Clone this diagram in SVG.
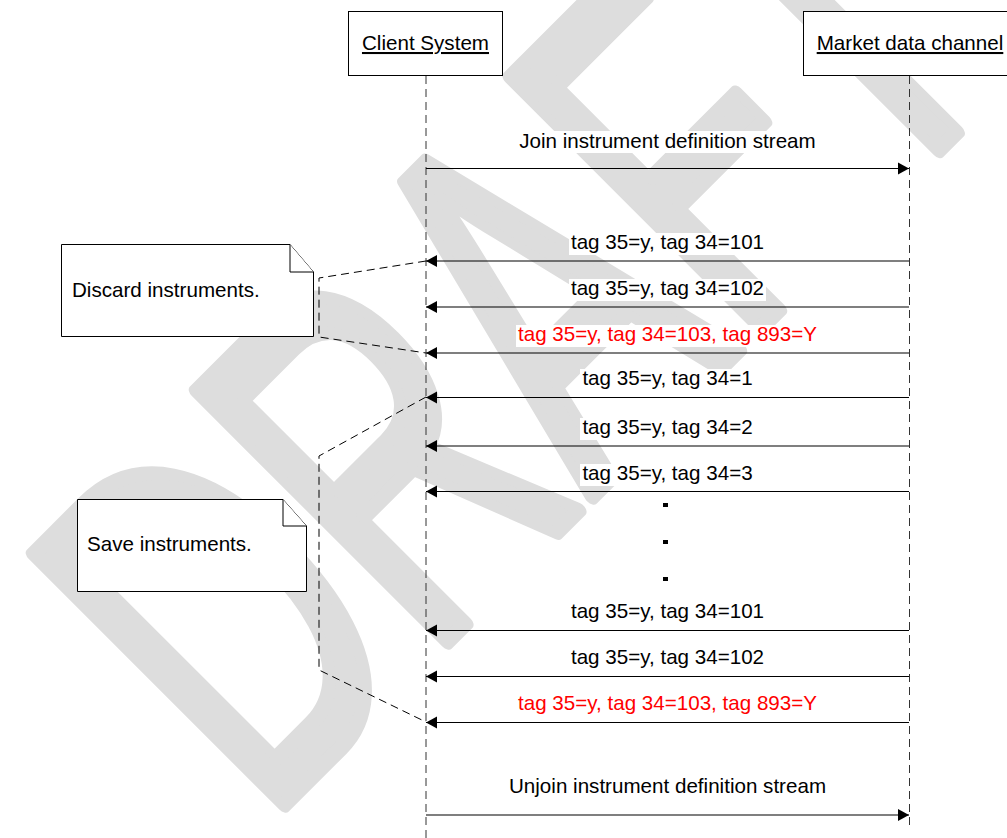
<svg xmlns="http://www.w3.org/2000/svg" width="1007" height="838" viewBox="0 0 1007 838">
  <style>
    .lbl { font-family: "Liberation Sans", Arial, sans-serif; font-size: 20.6px; fill: #000; }
    .mid { text-anchor: middle; }
    .red { fill: #ff0000; }
    .box { fill: #fff; stroke: #000; stroke-width: 1; }
    .life { fill: none; stroke: #333; stroke-width: 1; stroke-dasharray: 8 5; }
    .msg { fill: none; stroke: #000; stroke-width: 1.2; marker-end: url(#head); }
    .bg { fill: #fff; }
    .link { fill: none; stroke: #000; stroke-width: 1; stroke-dasharray: 8 5; }
    .dot { fill: #000; }
  </style>
  <defs>
    <marker id="head" markerUnits="userSpaceOnUse" markerWidth="12" markerHeight="13" refX="11" refY="6.5" orient="auto">
      <path d="M0,0.5 L11,6.5 L0,12.5 Z" fill="#000"/>
    </marker>
  </defs>

  <rect width="1007" height="838" fill="#fff"/>

  <!-- watermark -->
  <text id="watermark" transform="rotate(-45) scale(0.62,1)" x="-639" y="770" font-family="Liberation Sans, Arial, sans-serif" font-size="515" fill="#dddddd" stroke="#dddddd" stroke-width="16" stroke-linejoin="round">DRAFT</text>

  <!-- lifelines -->
  <g id="lifelines">
    <line class="life" x1="426" y1="76" x2="426" y2="838"/>
    <line class="life" x1="909.5" y1="76" x2="909.5" y2="827"/>
  </g>

  <!-- messages -->
  <g id="connectors">
    <line class="msg" x1="426" y1="168.5" x2="909" y2="168.5"/>
    <line class="msg" x1="909" y1="261" x2="426" y2="261"/>
    <line class="msg" x1="909" y1="307" x2="426" y2="307"/>
    <line class="msg" x1="909" y1="353" x2="426" y2="353"/>
    <line class="msg" x1="909" y1="397.5" x2="426" y2="397.5"/>
    <line class="msg" x1="909" y1="446" x2="426" y2="446"/>
    <line class="msg" x1="909" y1="491.5" x2="426" y2="491.5"/>
    <line class="msg" x1="909" y1="630.5" x2="426" y2="630.5"/>
    <line class="msg" x1="909" y1="676.5" x2="426" y2="676.5"/>
    <line class="msg" x1="909" y1="722.5" x2="426" y2="722.5"/>
    <line class="msg" x1="426" y1="815" x2="909" y2="815"/>

    <!-- note links -->
    <polyline class="link" points="426,261 319,278 319,337 426,353"/>
    <polyline class="link" points="426,397 319,456 319,670 426,722"/>

    <!-- continuation dots -->
    <rect class="dot" x="663" y="503" width="5" height="4"/>
    <rect class="dot" x="663" y="540" width="5" height="4"/>
    <rect class="dot" x="663" y="577" width="5" height="4"/>

    <!-- message labels -->
    <rect class="bg" x="519" y="131" width="297" height="22"/>
    <text class="lbl mid" x="667.5" y="148">Join instrument definition stream</text>
    <rect class="bg" x="569" y="233" width="197" height="22"/>
    <text class="lbl mid" x="667.5" y="249">tag 35=y, tag 34=101</text>
    <rect class="bg" x="569" y="279" width="197" height="22"/>
    <text class="lbl mid" x="667.5" y="295">tag 35=y, tag 34=102</text>
    <rect class="bg" x="516" y="325" width="303" height="22"/>
    <text class="lbl mid red" x="667.5" y="341">tag 35=y, tag 34=103, tag 893=Y</text>
    <rect class="bg" x="580" y="369" width="175" height="22"/>
    <text class="lbl mid" x="667.5" y="385">tag 35=y, tag 34=1</text>
    <rect class="bg" x="580" y="418" width="175" height="22"/>
    <text class="lbl mid" x="667.5" y="434">tag 35=y, tag 34=2</text>
    <rect class="bg" x="580" y="464" width="175" height="22"/>
    <text class="lbl mid" x="667.5" y="480">tag 35=y, tag 34=3</text>
    <rect class="bg" x="569" y="602" width="197" height="22"/>
    <text class="lbl mid" x="667.5" y="618">tag 35=y, tag 34=101</text>
    <rect class="bg" x="569" y="648" width="197" height="22"/>
    <text class="lbl mid" x="667.5" y="664">tag 35=y, tag 34=102</text>
    <rect class="bg" x="516" y="694" width="303" height="22"/>
    <text class="lbl mid red" x="667.5" y="710">tag 35=y, tag 34=103, tag 893=Y</text>
    <rect class="bg" x="507" y="777" width="321" height="22"/>
    <text class="lbl mid" x="667.5" y="793">Unjoin instrument definition stream</text>
  </g>

  <!-- participants -->
  <g id="client-system">
    <rect class="box" x="348.5" y="11.5" width="154" height="64"/>
    <text class="lbl mid" x="425.5" y="50" text-decoration="underline">Client System</text>
  </g>
  <g id="market-data-channel">
    <rect class="box" x="803.5" y="11.5" width="212" height="64"/>
    <text class="lbl mid" x="910" y="50" text-decoration="underline">Market data channel</text>
  </g>

  <!-- notes -->
  <g id="note-discard">
    <path class="box" d="M61.5,244.5 H290 L313.5,272 V336.5 H61.5 Z"/>
    <path class="box" d="M290,244.5 V272 H313.5"/>
    <text class="lbl" x="72" y="297">Discard instruments.</text>
  </g>
  <g id="note-save">
    <path class="box" d="M77.5,499.5 H283 L306.5,526 V591.5 H77.5 Z"/>
    <path class="box" d="M283,499.5 V526 H306.5"/>
    <text class="lbl" x="87" y="551">Save instruments.</text>
  </g>
</svg>
